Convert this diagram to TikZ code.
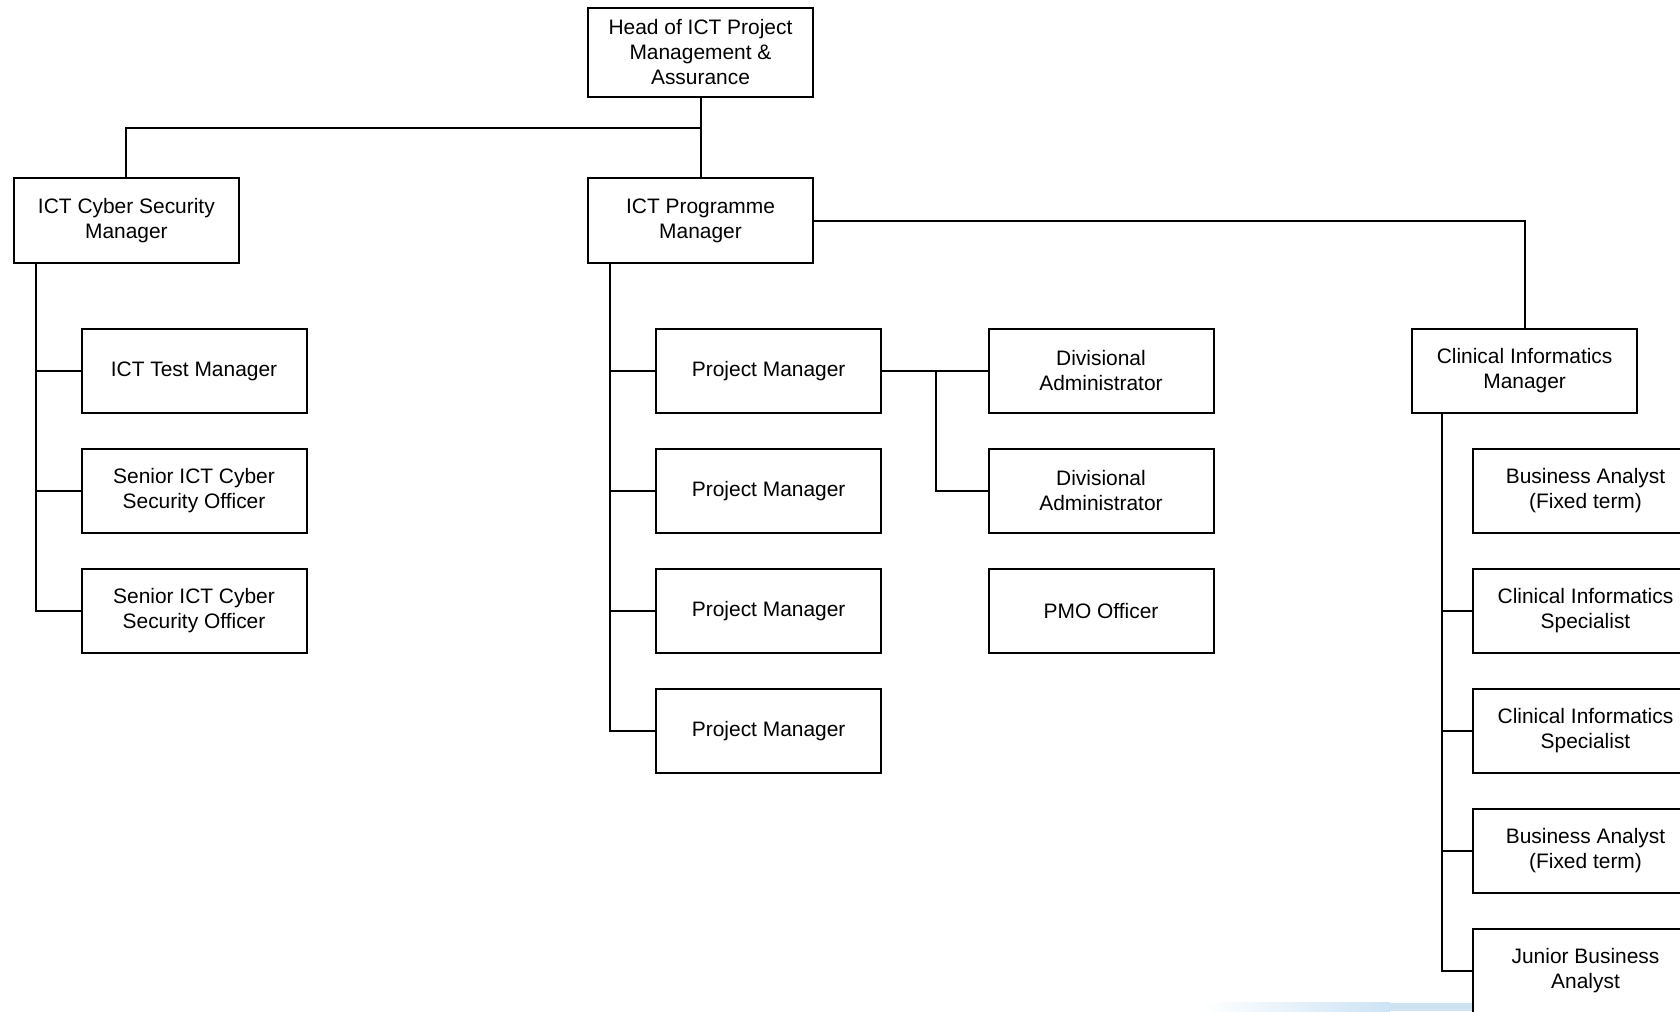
\documentclass[tikz,border=0pt]{standalone}
\usepackage{fontspec}
\setmainfont{Liberation Sans}
\newcommand\rolefont{\fontsize{15.7}{18.75}\selectfont}
\definecolor{bandblue}{RGB}{205,227,244}

\tikzset{every picture/.style={line width=1.5pt}}
\tikzset{
  rolebox/.style={draw, fill=white, minimum width=168.75pt, minimum height=63.4pt, inner sep=1pt, align=center, font=\rolefont},
  headbox/.style={rolebox, minimum height=66.75pt},
}

\begin{document}
\begin{tikzpicture}[x=0.75pt,y=0.75pt,yscale=-1,xscale=1]
\path[use as bounding box, clip] (0,0) rectangle (1680,1011);

%Shape: light band at the foot
\fill [bandblue] (1370,1002.5) rectangle (1680,1011);
\shade [left color=white, right color=bandblue, draw=none] (1200,1002.5) rectangle (1390,1011);

% Top level
\node [headbox] (head) at (700.5,52.5) {Head of ICT Project\\Management \&\\Assurance};
\node [rolebox] (cyber) at (126.4,220.7) {ICT Cyber Security\\Manager};
\node [rolebox] (prog) at (700.5,220.7) {ICT Programme\\Manager};

% Cyber security team
\node [rolebox] (test) at (194,371) {ICT Test Manager};
\node [rolebox] (senior1) at (194,491) {Senior ICT Cyber\\Security Officer};
\node [rolebox] (senior2) at (194,611) {Senior ICT Cyber\\Security Officer};

% Programme team
\node [rolebox] (pm1) at (768.7,371) {Project Manager};
\node [rolebox] (pm2) at (768.7,491) {Project Manager};
\node [rolebox] (pm3) at (768.7,611) {Project Manager};
\node [rolebox] (pm4) at (768.7,731) {Project Manager};
\node [rolebox] (div1) at (1101,371) {Divisional\\Administrator};
\node [rolebox] (div2) at (1101,491) {Divisional\\Administrator};
\node [rolebox] (pmo) at (1101,611) {PMO Officer};

% Clinical informatics team
\node [rolebox] (cim) at (1524.6,371) {Clinical Informatics\\Manager};
\node [rolebox] (ba1) at (1585.5,491) {Business Analyst\\(Fixed term)};
\node [rolebox] (cis1) at (1585.5,611) {Clinical Informatics\\Specialist};
\node [rolebox] (cis2) at (1585.5,731) {Clinical Informatics\\Specialist};
\node [rolebox] (ba2) at (1585.5,851) {Business Analyst\\(Fixed term)};
\node [rolebox] (jba) at (1585.5,971) {Junior Business\\Analyst};

% Connectors
\coordinate (topbus) at (700.5,127.7);
\coordinate (lspine) at (36,0);
\coordinate (mspine) at (609.6,0);
\coordinate (rspine) at (1442,0);
\coordinate (djoin) at (936,371);

\draw (head) -- (prog);
\draw (topbus) -| (cyber);

\draw (lspine |- cyber.south) |- (senior2.west);
\draw (lspine |- test.west) -- (test.west);
\draw (lspine |- senior1.west) -- (senior1.west);

\draw (mspine |- prog.south) |- (pm4.west);
\draw (mspine |- pm1.west) -- (pm1.west);
\draw (mspine |- pm2.west) -- (pm2.west);
\draw (mspine |- pm3.west) -- (pm3.west);

\draw (pm1.east) -- (div1.west);
\draw (djoin) |- (div2.west);

\draw (prog.east) -| (cim.north);
\draw (rspine |- cim.south) |- (jba.west);
\draw (rspine |- cis1.west) -- (cis1.west);
\draw (rspine |- cis2.west) -- (cis2.west);
\draw (rspine |- ba2.west) -- (ba2.west);
\end{tikzpicture}
\end{document}
